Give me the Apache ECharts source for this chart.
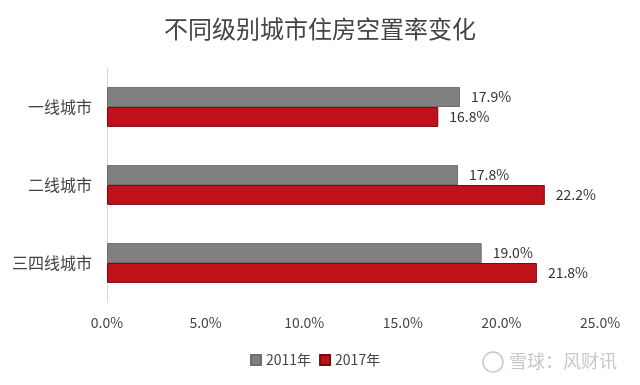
<!DOCTYPE html>
<html>
<head>
<meta charset="utf-8">
<script src="https://cdn.jsdelivr.net/npm/echarts@6/dist/echarts.min.js"></script>
<style>html,body{margin:0;padding:0;background:#fff}#c{width:640px;height:385px}</style>
</head>
<body>
<div id="c"></div>
<script>
const categories = ['一线城市', '二线城市', '三四线城市'];
const seriesNames = ['2011年', '2017年'];
const values2011 = [17.9, 17.8, 19.0];
const values2017 = [16.8, 22.2, 21.8];
const xTicks = [0, 5, 10, 15, 20, 25];

const chart = echarts.init(document.getElementById('c'), null, {renderer: 'canvas'});
const font = '"Noto Sans CJK SC", "Noto Sans", sans-serif';
const lbl = {
  show: true, position: 'right', distance: 11,
  color: '#333', fontSize: 14, fontFamily: font,
  formatter: p => p.value.toFixed(1) + '%'
};
chart.setOption({
  animation: false,
  backgroundColor: '#fff',
  title: {
    text: '不同级别城市住房空置率变化', left: 'center', top: 12,
    textStyle: {fontSize: 24, fontWeight: 'normal', color: '#444', fontFamily: font}
  },
  legend: {
    data: seriesNames, bottom: 13, left: 245, icon: 'rect',
    itemWidth: 10, itemHeight: 10, itemGap: 8,
    textStyle: {fontSize: 14, color: '#444', fontFamily: font}
  },
  grid: {left: 107, right: 40, top: 68, bottom: 83, containLabel: false},
  xAxis: {
    type: 'value', min: xTicks[0], max: xTicks[xTicks.length - 1], interval: 5,
    axisLine: {show: false}, axisTick: {show: false}, splitLine: {show: false},
    axisLabel: {color: '#444', fontSize: 14, fontFamily: font, margin: 14,
      formatter: v => v.toFixed(1) + '%'}
  },
  yAxis: {
    type: 'category', data: categories, inverse: true,
    axisLine: {show: true, lineStyle: {color: '#d9d9d9'}},
    axisTick: {show: false},
    axisLabel: {color: '#444', fontSize: 16, fontFamily: font, margin: 15}
  },
  graphic: [{
    type: 'text', left: 509, top: 352,
    style: {text: '雪球：风财讯', fontSize: 18, fill: '#c8c8c8', fontFamily: font}
  }, {
    type: 'circle', shape: {cx: 493, cy: 362, r: 10},
    style: {fill: 'none', stroke: '#c8c8c8', lineWidth: 1.5}
  }],
  series: [{
    name: seriesNames[0], type: 'bar', data: values2011,
    barGap: '0%', barCategoryGap: '49%',
    itemStyle: {color: '#808080', borderColor: '#6e6e6e', borderWidth: 1},
    label: lbl
  }, {
    name: seriesNames[1], type: 'bar', data: values2017,
    itemStyle: {color: '#c0111b', borderColor: '#7a0a10', borderWidth: 1},
    label: lbl
  }]
});
</script>
</body>
</html>
